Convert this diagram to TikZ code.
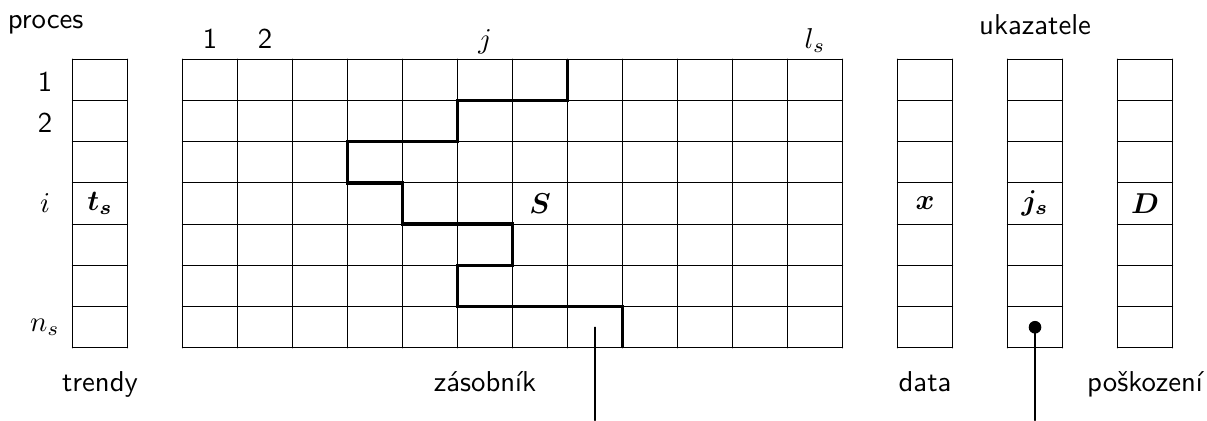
\documentclass[tikz,border=0pt]{standalone}
\usepackage{amsmath,amssymb}
\usepackage{tikz}
\usetikzlibrary{arrows.meta}

\begin{document}
\begin{tikzpicture}[x=0.7cm,y=0.525cm,font=\sffamily,line cap=round,every node/.append style={scale=1.04}]
\useasboundingbox (-1.318,-1.760) rectangle (20.627,8.433);
\draw (0,0) grid[xstep=1,ystep=1] (1,7);
\draw (2,0) grid[xstep=1,ystep=1] (14,7);
\draw (15,0) grid[xstep=1,ystep=1] (16,7);
\draw (17,0) grid[xstep=1,ystep=1] (18,7);
\draw (19,0) grid[xstep=1,ystep=1] (20,7);
\draw[line width=1.2pt,line cap=butt,line join=miter] (9,7) -- (9,6) -- (7,6) -- (7,5) -- (5,5) -- (5,4) -- (6,4) -- (6,3) -- (8,3) -- (8,2) -- (7,2) -- (7,1) -- (10,1) -- (10,0);
\node[anchor=base] (proc) at (-0.49,7.748) {proces};
\node[anchor=base] (col1) at (2.5,7.264) {1};
\node[anchor=base] (col2) at (3.5,7.264) {2};
\node[anchor=base] (colj) at (7.5,7.264) {$j$};
\node[anchor=base] (coll) at (13.5,7.264) {$l_s$};
\node[anchor=base] (ukaz) at (17.5,7.586) {ukazatele};
\node (row1) at (-0.5,6.45) {1};
\node (row2) at (-0.5,5.45) {2};
\node (rowi) at (-0.5,3.5) {$i$};
\node (rown) at (-0.5,0.5) {$n_s$};
\node (ts) at (0.5,3.5) {$\boldsymbol{t_s}$};
\node (S) at (8.5,3.5) {$\boldsymbol{S}$};
\node (x) at (15.5,3.5) {$\boldsymbol{x}$};
\node (js) at (17.5,3.5) {$\boldsymbol{j_s}$};
\node (D) at (19.5,3.5) {$\boldsymbol{D}$};
\node[anchor=base] (trendy) at (0.5,-1.058) {trendy};
\node[anchor=base] (zas) at (7.5,-1.058) {zásobník};
\node[anchor=base] (data) at (15.5,-1.058) {data};
\node[anchor=base] (posk) at (19.5,-1.058) {poškození};
\coordinate (top) at (9.5,0.5);
\coordinate (topend) at (9.5,-1.760);
\node[circle,fill,inner sep=0pt,minimum size=4.4pt] (ptr) at (17.5,0.5) {};
\coordinate (ptrend) at (17.5,-1.760);
\draw (top) -- (topend);
\draw (ptr.center) -- (ptrend);
\end{tikzpicture}
\end{document}
